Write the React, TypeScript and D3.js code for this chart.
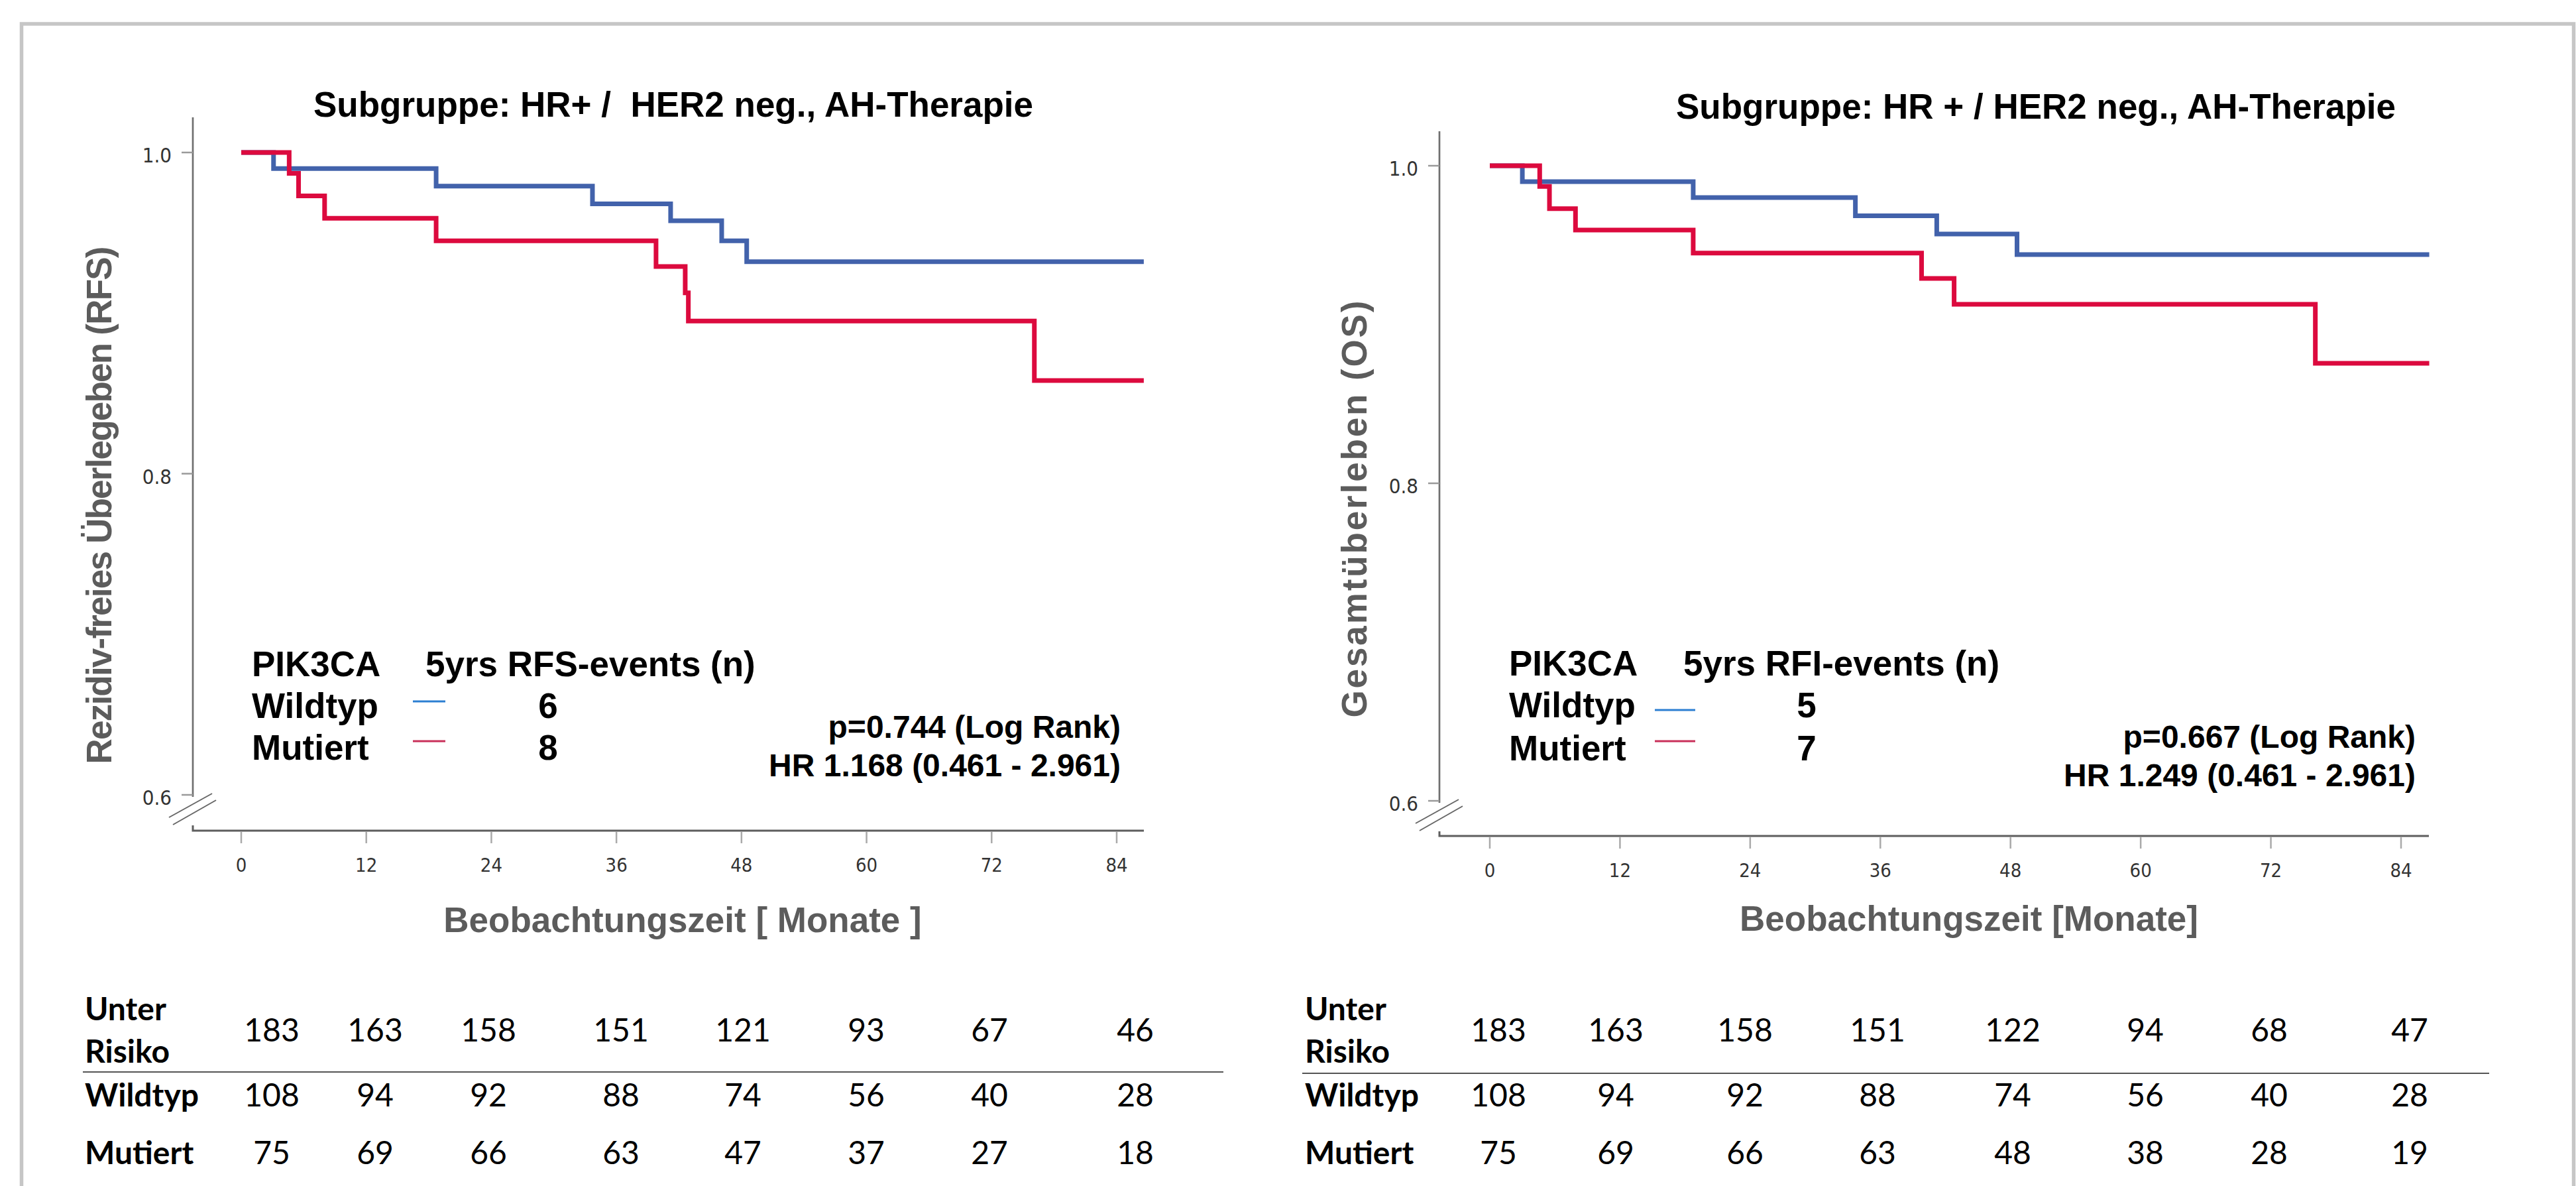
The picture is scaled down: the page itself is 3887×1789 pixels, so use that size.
import React from "react";
import * as d3 from "d3";

// ---- data ----
const monthTicks = [0, 12, 24, 36, 48, 60, 72, 84];
const survTicks = [0.6, 0.8, 1.0];
const followUpEnd = 86.6;

// RFS (left)
const rfsWildTime = [0, 3.1, 18.7, 33.7, 41.2, 46.1, 48.5];
const rfsWildSurv = [1.0, 0.99, 0.979, 0.968, 0.9575, 0.945, 0.932];
const rfsMutTime = [0, 4.6, 5.5, 8.0, 18.7, 39.8, 42.6, 42.9, 76.1];
const rfsMutSurv = [1.0, 0.987, 0.973, 0.959, 0.945, 0.929, 0.9126, 0.895, 0.858];

// OS (right)
const osWildTime = [0, 3.0, 18.75, 33.7, 41.2, 48.6];
const osWildSurv = [1.0, 0.99, 0.98, 0.9685, 0.957, 0.944];
const osMutTime = [0, 4.6, 5.5, 7.9, 18.75, 39.8, 42.8, 76.1];
const osMutSurv = [1.0, 0.987, 0.973, 0.9595, 0.945, 0.929, 0.9127, 0.8756];

// numbers at risk
const rfsRiskTotal = [183, 163, 158, 151, 121, 93, 67, 46];
const rfsRiskWild = [108, 94, 92, 88, 74, 56, 40, 28];
const rfsRiskMut = [75, 69, 66, 63, 47, 37, 27, 18];
const osRiskTotal = [183, 163, 158, 151, 122, 94, 68, 47];
const osRiskWild = [108, 94, 92, 88, 74, 56, 40, 28];
const osRiskMut = [75, 69, 66, 63, 48, 38, 28, 19];

const groupNames = ["Wildtyp", "Mutiert"];
const leftEvents = ["6", "8"];
const rightEvents = ["5", "7"];

const ARIAL = "'Liberation Sans', Arial, sans-serif";
const TICKFONT = "'DejaVu Sans Condensed', 'DejaVu Sans', sans-serif";
const TABLEFONT = "Lato, 'Open Sans', sans-serif";
const BLUE = "#4262ab";
const RED = "#dc0a3e";
const LEG_BLUE = "#2c7fd2";
const LEG_RED = "#c9305a";

type Layout = {
  x0: number; x84: number; y10: number; y06: number;
  axisX: number; axisTop: number; xAxisY: number; xAxisEnd: number;
  titleX: number; titleY: number; title: string;
  yLabX: number; yLabY: number; yLabLen: number; yLab: string;
  legX: number; legHeadX: number; legLine: [number, number]; legLineY: [number, number];
  countX: number; legY: [number, number, number]; legHead: string;
  statX: number; statY: [number, number]; stats: [string, string];
  xTitleX: number; xTitleY: number; xTitle: string;
  tabX: number; tabCols: number[]; rule: [number, number, number];
};

function Panel({ lay, wild, mut, risk, events }: {
  lay: Layout;
  wild: [number[], number[]];
  mut: [number[], number[]];
  risk: number[][];
  events: string[];
}) {
  const x = d3.scaleLinear().domain([0, 84]).range([lay.x0, lay.x84]);
  const y = d3.scaleLinear().domain([0.6, 1.0]).range([lay.y06, lay.y10]);
  const line = d3
    .line<[number, number]>()
    .x((d) => x(d[0]))
    .y((d) => y(d[1]))
    .curve(d3.curveStepAfter);
  const pts = (t: number[], s: number[]): [number, number][] => {
    const p = t.map((v, i) => [v, s[i]] as [number, number]);
    p.push([followUpEnd, s[s.length - 1]]);
    return p;
  };
  const bx = lay.axisX;
  const by = y(0.6);
  const rowY = [1571, 1669, 1756];
  return (
    <g>
      <text x={lay.titleX} y={lay.titleY} textAnchor="middle" fontFamily={ARIAL}
        fontWeight="bold" fontSize={53} style={{ whiteSpace: "pre" }}>{lay.title}</text>

      <text transform={`translate(${lay.yLabX},${lay.yLabY}) rotate(-90)`} textAnchor="middle"
        fontFamily={ARIAL} fontWeight="bold" fontSize={53} fill="#5c5c5c"
        textLength={lay.yLabLen} lengthAdjust="spacing">{lay.yLab}</text>

      {/* y axis */}
      <line x1={bx} x2={bx} y1={lay.axisTop} y2={by + 3} stroke="#6f6f6f" strokeWidth={2.7} />
      {survTicks.map((t) => (
        <g key={t}>
          <line x1={bx - 17} x2={bx} y1={y(t)} y2={y(t)} stroke="#9a9a9a" strokeWidth={2.5} />
          <text x={bx - 32} y={y(t) + 15} textAnchor="end" fontFamily={TICKFONT}
            fontSize={31} fill="#333">{d3.format(".1f")(t)}</text>
        </g>
      ))}
      {/* axis break */}
      <line x1={bx - 36} y1={by + 34} x2={bx + 29} y2={by - 2} stroke="#666" strokeWidth={2} />
      <line x1={bx - 30} y1={by + 45} x2={bx + 35} y2={by + 8} stroke="#666" strokeWidth={2} />

      {/* x axis */}
      <path d={`M${bx},${by + 46}V${lay.xAxisY}H${lay.xAxisEnd}`} fill="none" stroke="#5e5e5e" strokeWidth={3} />
      {monthTicks.map((t) => (
        <g key={t}>
          <line x1={x(t)} x2={x(t)} y1={lay.xAxisY + 1} y2={lay.xAxisY + 19} stroke="#aaa" strokeWidth={2.5} />
          <text x={x(t)} y={lay.xAxisY + 62} textAnchor="middle" fontFamily={TICKFONT}
            fontSize={29} fill="#333">{t}</text>
        </g>
      ))}
      <text x={lay.xTitleX} y={lay.xTitleY} textAnchor="middle" fontFamily={ARIAL} fontWeight="bold"
        fontSize={53} fill="#5c5c5c" style={{ whiteSpace: "pre" }}>{lay.xTitle}</text>

      {/* curves */}
      <path d={line(pts(wild[0], wild[1])) ?? ""} fill="none" stroke={BLUE} strokeWidth={7} />
      <path d={line(pts(mut[0], mut[1])) ?? ""} fill="none" stroke={RED} strokeWidth={7} />

      {/* legend */}
      <g fontFamily={ARIAL} fontWeight="bold" fontSize={53} fill="#000">
        <text x={lay.legX} y={lay.legY[0]}>PIK3CA</text>
        <text x={lay.legHeadX} y={lay.legY[0]}>{lay.legHead}</text>
        {groupNames.map((g, i) => (
          <g key={g}>
            <text x={lay.legX} y={lay.legY[i + 1]}>{g}</text>
            <line x1={lay.legLine[0]} x2={lay.legLine[1]} y1={lay.legLineY[i]} y2={lay.legLineY[i]}
              stroke={i === 0 ? LEG_BLUE : LEG_RED} strokeWidth={2.8} />
            <text x={lay.countX} y={lay.legY[i + 1]} textAnchor="middle">{events[i]}</text>
          </g>
        ))}
      </g>
      <g fontFamily={ARIAL} fontWeight="bold" fontSize={48} fill="#000" textAnchor="end">
        <text x={lay.statX} y={lay.statY[0]}>{lay.stats[0]}</text>
        <text x={lay.statX} y={lay.statY[1]}>{lay.stats[1]}</text>
      </g>

      {/* numbers at risk */}
      <g fontFamily={TABLEFONT} fontSize={48} fill="#000">
        <text x={lay.tabX} y={1539} fontWeight="bold">Unter</text>
        <text x={lay.tabX} y={1603} fontWeight="bold">Risiko</text>
        <text x={lay.tabX} y={rowY[1]} fontWeight="bold">{groupNames[0]}</text>
        <text x={lay.tabX} y={rowY[2]} fontWeight="bold">{groupNames[1]}</text>
        {risk.map((row, r) =>
          row.map((v, c) => (
            <text key={`${r}-${c}`} x={lay.tabCols[c]} y={rowY[r]} textAnchor="middle">{v}</text>
          ))
        )}
      </g>
      <line x1={lay.rule[0]} x2={lay.rule[1]} y1={lay.rule[2]} y2={lay.rule[2]} stroke="#555" strokeWidth={2} />
    </g>
  );
}

const leftLayout: Layout = {
  x0: 364, x84: 1685, y10: 230, y06: 1199,
  axisX: 291, axisTop: 177, xAxisY: 1253, xAxisEnd: 1726,
  titleX: 1016, titleY: 176, title: "Subgruppe: HR+ /  HER2 neg., AH-Therapie",
  yLabX: 168, yLabY: 762, yLabLen: 781, yLab: "Rezidiv-freies Überlegeben (RFS)",
  legX: 380, legHeadX: 642, legLine: [623, 672], legLineY: [1058, 1118],
  countX: 827, legY: [1020, 1083, 1146], legHead: "5yrs RFS-events (n)",
  statX: 1691, statY: [1113, 1171], stats: ["p=0.744 (Log Rank)", "HR 1.168 (0.461 - 2.961)"],
  xTitleX: 1030, xTitleY: 1406, xTitle: "Beobachtungszeit [ Monate ]",
  tabX: 128, tabCols: [410, 566, 737, 937, 1121, 1307, 1493, 1713], rule: [125, 1846, 1617],
};

const rightLayout: Layout = {
  x0: 2248, x84: 3623, y10: 250, y06: 1208,
  axisX: 2172, axisTop: 198, xAxisY: 1261, xAxisEnd: 3665,
  titleX: 3072, titleY: 179, title: "Subgruppe: HR + / HER2 neg., AH-Therapie",
  yLabX: 2062, yLabY: 768, yLabLen: 629, yLab: "Gesamtüberleben (OS)",
  legX: 2277, legHeadX: 2540, legLine: [2497, 2558], legLineY: [1071, 1118],
  countX: 2726, legY: [1019, 1082, 1147], legHead: "5yrs RFI-events (n)",
  statX: 3645, statY: [1128, 1186], stats: ["p=0.667 (Log Rank)", "HR 1.249 (0.461 - 2.961)"],
  xTitleX: 2971, xTitleY: 1404, xTitle: "Beobachtungszeit [Monate]",
  tabX: 1969, tabCols: [2261, 2438, 2633, 2833, 3037, 3237, 3424, 3636], rule: [1965, 3756, 1619],
};

export default function App() {
  return (
    <svg width={3887} height={1789} style={{ position: "absolute", left: 0, top: 0, background: "#fff" }}>
      <rect x={0} y={0} width={3887} height={1789} fill="#fff" />
      <rect x={32.5} y={36} width={3851} height={1800} fill="none" stroke="#c6c6c6" strokeWidth={5.5} />
      <Panel lay={leftLayout} wild={[rfsWildTime, rfsWildSurv]} mut={[rfsMutTime, rfsMutSurv]}
        risk={[rfsRiskTotal, rfsRiskWild, rfsRiskMut]} events={leftEvents} />
      <Panel lay={rightLayout} wild={[osWildTime, osWildSurv]} mut={[osMutTime, osMutSurv]}
        risk={[osRiskTotal, osRiskWild, osRiskMut]} events={rightEvents} />
    </svg>
  );
}
